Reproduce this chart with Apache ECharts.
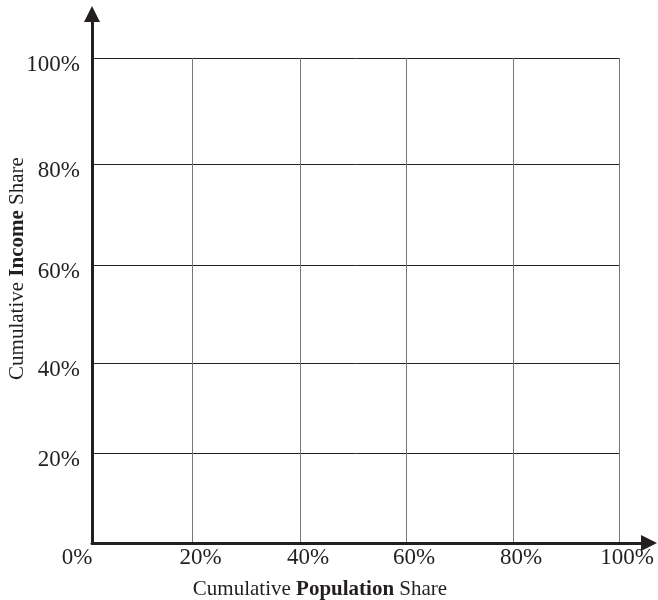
<!DOCTYPE html>
<html><head><meta charset="utf-8">
<script src="https://cdn.jsdelivr.net/npm/echarts@6/dist/echarts.min.js"></script>
<style>html,body{margin:0;padding:0;background:#fff}#c{width:658px;height:600px}</style>
</head><body><div id="c"></div>
<script>
// Tick positions (axis units) and their labels
const xTickValues = [0, 19.07, 39.47, 59.58, 79.89, 100];
const xTickLabels = ['0%', '20%', '40%', '60%', '80%', '100%'];
const yTickValues = [18.56, 37.11, 57.32, 78.14, 100];
const yTickLabels = ['20%', '40%', '60%', '80%', '100%'];
const xTitleParts = ['Cumulative ', 'Population', ' Share'];
const yTitleParts = ['Cumulative ', 'Income', ' Share'];

const FONT = 'Liberation Serif';
const INK = '#231f20';

function lab(values, labels, v) {
  let best = 0, bd = Infinity;
  values.forEach((t, i) => { const d = Math.abs(t - v); if (d < bd) { bd = d; best = i; } });
  return labels[best];
}
function titleRich(parts) {
  return '{n|' + parts[0] + '}{b|' + parts[1] + '}{n|' + parts[2] + '}';
}
const titleStyle = {
  fontFamily: FONT, fontSize: 21, color: INK,
  rich: {
    n: { fontFamily: FONT, fontSize: 21, color: INK },
    b: { fontFamily: FONT, fontSize: 21, color: INK, fontWeight: 'bold' }
  }
};

const chart = echarts.init(document.getElementById('c'), null, { renderer: 'canvas' });
chart.setOption({
  backgroundColor: '#fff',
  animation: false,
  grid: [
    { left: 92, right: 39, top: 58, bottom: 57, containLabel: false, outerBoundsMode: 'none' },
    { left: 92, right: 9, top: 14, bottom: 57, containLabel: false, outerBoundsMode: 'none' }
  ],
  xAxis: [
    {
      type: 'value', gridIndex: 0, min: 0, max: 100,
      axisLine: { show: false },
      axisTick: { show: false, customValues: xTickValues.slice(1) },
      splitLine: { show: true, lineStyle: { color: '#777', width: 1 } },
      axisLabel: {
        customValues: xTickValues, margin: 3,
        formatter: v => {
          const t = lab(xTickValues, xTickLabels, v);
          return (Math.abs(v) < 1e-9 ? '{z|' : '{a|') + t + '}';
        },
        rich: {
          a: { fontFamily: FONT, fontSize: 23, color: INK, padding: [0, 0, 0, 16] },
          z: { fontFamily: FONT, fontSize: 23, color: INK, padding: [0, 30, 0, 0] }
        }
      },
      name: titleRich(xTitleParts), nameLocation: 'middle', nameGap: 36,
      nameTextStyle: Object.assign({ padding: [0, 71, 0, 0] }, titleStyle)
    },
    {
      type: 'value', gridIndex: 1, min: 0, max: 100,
      axisLine: { show: true, symbol: ['none', 'triangle'], symbolSize: [16, 16],
        lineStyle: { color: INK, width: 3 } },
      axisTick: { show: false }, axisLabel: { show: false }, splitLine: { show: false }
    }
  ],
  yAxis: [
    {
      type: 'value', gridIndex: 0, min: 0, max: 100,
      axisLine: { show: false },
      axisTick: { show: false, customValues: yTickValues },
      splitLine: { show: true, lineStyle: { color: '#222', width: 1 } },
      axisLabel: {
        customValues: yTickValues, margin: 12,
        formatter: v => '{a|' + lab(yTickValues, yTickLabels, v) + '}',
        rich: { a: { fontFamily: FONT, fontSize: 23, color: INK, padding: [14, 0, 0, 0] } }
      }
    },
    {
      type: 'value', gridIndex: 1, min: 0, max: 100,
      axisLine: { show: true, symbol: ['none', 'triangle'], symbolSize: [16, 16],
        lineStyle: { color: INK, width: 3 } },
      axisTick: { show: false }, axisLabel: { show: false }, splitLine: { show: false },
      name: titleRich(yTitleParts), nameLocation: 'middle', nameRotate: 90, nameGap: 64,
      nameTextStyle: Object.assign({ padding: [0, 0, 0, 20] }, titleStyle)
    }
  ],
  series: []
});
</script>
</body></html>
